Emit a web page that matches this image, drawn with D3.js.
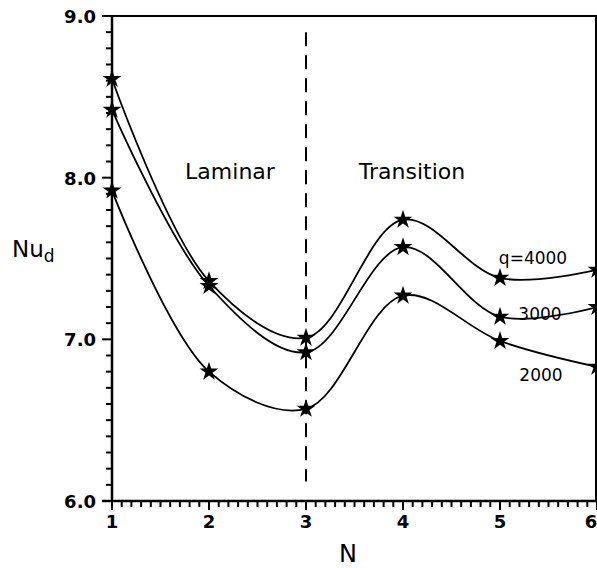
<!DOCTYPE html>
<html>
<head>
<meta charset="utf-8">
<title>Nu_d vs N</title>
<style>
  body { margin: 0; background: #fff; }
  text { font-family: "DejaVu Sans", sans-serif; fill: #000; }
</style>
</head>
<body>
<script src="https://d3js.org/d3.v7.min.js"></script>
<script>
// data
var nValues = [1, 2, 3, 4, 5, 6];
var q4000 = [8.61, 7.36, 7.01, 7.74, 7.38, 7.43];
var q3000 = [8.42, 7.33, 6.92, 7.57, 7.14, 7.20];
var q2000 = [7.92, 6.80, 6.57, 7.27, 6.99, 6.83];
var seriesLabels = ["q=4000", "3000", "2000"];
var yTicks = [6, 7, 8, 9];
var xTicks = [1, 2, 3, 4, 5, 6];

var width = 597, height = 568;
var plotLeft = 112, plotRight = 597, plotTop = 16, plotBottom = 501;

var svg = d3.select("body").append("svg")
    .attr("width", width)
    .attr("height", height);

var x = d3.scaleLinear().domain([1, 6]).range([plotLeft, plotRight]);
var y = d3.scaleLinear().domain([6, 9]).range([plotBottom, plotTop]);

// frame: top and right borders
svg.append("line")
    .attr("x1", plotLeft - 10).attr("x2", plotRight)
    .attr("y1", y(9)).attr("y2", y(9))
    .attr("stroke", "#000").attr("stroke-width", 2);
svg.append("line")
    .attr("x1", plotRight - 1).attr("x2", plotRight - 1)
    .attr("y1", y(9)).attr("y2", y(6))
    .attr("stroke", "#000").attr("stroke-width", 2);

// minor ticks on y
var yMinor = d3.range(60, 91).map(function(d){ return d / 10; });
var yAxis = svg.append("g");
yAxis.selectAll("line.tick")
    .data(yMinor)
    .enter().append("line")
    .attr("x1", function(d){ return (Math.round(d * 10) % 10 === 0) ? plotLeft - 10 : plotLeft - 6; })
    .attr("x2", plotLeft)
    .attr("y1", function(d){ return y(d); })
    .attr("y2", function(d){ return y(d); })
    .attr("stroke", "#000").attr("stroke-width", 2);
yAxis.append("line")
    .attr("x1", plotLeft).attr("x2", plotLeft)
    .attr("y1", y(9)).attr("y2", y(6))
    .attr("stroke", "#000").attr("stroke-width", 2.5);
yAxis.selectAll("text")
    .data(yTicks)
    .enter().append("text")
    .attr("x", plotLeft - 16)
    .attr("y", function(d){ return y(d) + 7; })
    .attr("text-anchor", "end")
    .style("font-size", "18px")
    .style("font-weight", "bold")
    .text(function(d){ return d3.format(".1f")(d); });

// minor ticks on x
var xMinor = d3.range(10, 61).map(function(d){ return d / 10; });
var xAxis = svg.append("g");
xAxis.selectAll("line.tick")
    .data(xMinor)
    .enter().append("line")
    .attr("x1", function(d){ return x(d); })
    .attr("x2", function(d){ return x(d); })
    .attr("y1", plotBottom)
    .attr("y2", function(d){ return (Math.round(d * 10) % 10 === 0) ? plotBottom + 9 : plotBottom + 6; })
    .attr("stroke", "#000").attr("stroke-width", 2);
xAxis.append("line")
    .attr("x1", plotLeft - 10).attr("x2", plotRight)
    .attr("y1", plotBottom).attr("y2", plotBottom)
    .attr("stroke", "#000").attr("stroke-width", 2.5);
xAxis.selectAll("text")
    .data(xTicks)
    .enter().append("text")
    .attr("x", function(d){ return Math.min(x(d), plotRight - 6); })
    .attr("y", plotBottom + 27)
    .attr("text-anchor", "middle")
    .style("font-size", "18px")
    .style("font-weight", "bold")
    .text(function(d){ return d; });

// axis titles
svg.append("text")
    .attr("x", 348).attr("y", 562)
    .attr("text-anchor", "middle")
    .style("font-size", "24px")
    .text("N");
var nu = svg.append("text")
    .attr("x", 12).attr("y", 257)
    .style("font-size", "23px");
nu.append("tspan").text("Nu");
nu.append("tspan").attr("dy", 5).style("font-size", "17px").text("d");

// dashed divider at N = 3
svg.append("line")
    .attr("x1", x(3)).attr("x2", x(3))
    .attr("y1", y(8.9)).attr("y2", y(6.12))
    .attr("stroke", "#000").attr("stroke-width", 2)
    .attr("stroke-dasharray", "14,9");

// regime labels
svg.append("text").attr("x", 230).attr("y", 179)
    .attr("text-anchor", "middle").style("font-size", "22px").text("Laminar");
svg.append("text").attr("x", 412).attr("y", 179)
    .attr("text-anchor", "middle").style("font-size", "22px").text("Transition");

// curves
var line = d3.line()
    .x(function(d, i){ return x(nValues[i]); })
    .y(function(d){ return y(d); })
    .curve(d3.curveCatmullRom.alpha(0.5));

var allSeries = [q4000, q3000, q2000];
var star = d3.symbol().type(d3.symbolStar).size(110);

allSeries.forEach(function(s){
    svg.append("path")
        .attr("d", line(s))
        .attr("fill", "none")
        .attr("stroke", "#000")
        .attr("stroke-width", 1.8);
    svg.selectAll(null)
        .data(s)
        .enter().append("path")
        .attr("d", star)
        .attr("transform", function(d, i){ return "translate(" + x(nValues[i]) + "," + y(d) + ")"; })
        .attr("fill", "#000");
});

// series labels
var labelPos = [[533, 264], [540, 320], [541, 381]];
svg.selectAll("text.series")
    .data(seriesLabels)
    .enter().append("text")
    .attr("class", "series")
    .attr("x", function(d, i){ return labelPos[i][0]; })
    .attr("y", function(d, i){ return labelPos[i][1]; })
    .attr("text-anchor", "middle")
    .style("font-size", "17px")
    .text(function(d){ return d; });
</script>
</body>
</html>
